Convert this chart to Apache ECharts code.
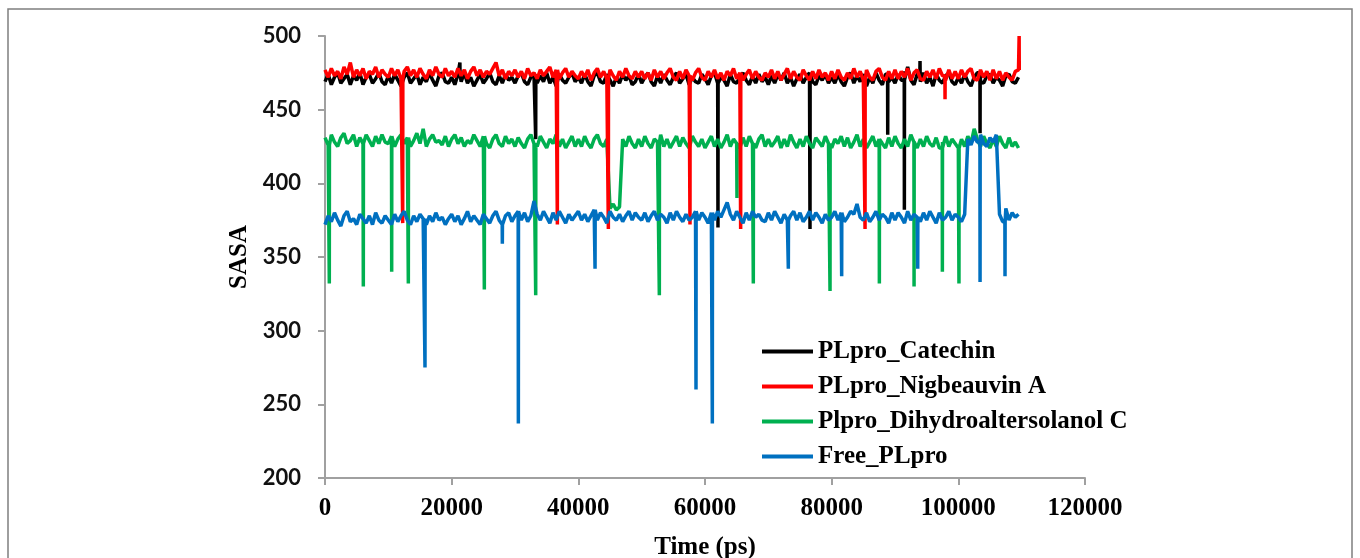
<!DOCTYPE html>
<html>
<head>
<meta charset="utf-8">
<script src="https://cdn.jsdelivr.net/npm/echarts@6/dist/echarts.min.js"></script>
<style>
  html, body { margin: 0; padding: 0; background: #fff; }
  #chart { width: 1360px; height: 558px; }
</style>
</head>
<body>
<div id="chart"></div>
<script>
// sampled every 500 ps, 0 .. 109500
var step = 500;

var catechin = [
  469,474,467,472,475,468,471,474,467,473,470,475,467,472,474,468,471,475,469,467,
  473,468,474,470,466,472,475,468,471,474,467,472,469,475,470,466,473,475,469,468,
  472,467,474,469,475,468,472,466,470,474,468,471,475,469,467,473,468,474,470,472,
  468,473,475,469,467,472,474,468,473,469,475,468,472,466,474,470,468,472,475,469,
  472,468,474,469,466,473,475,469,468,474,470,466,472,468,474,470,473,467,469,474,
  468,472,475,469,466,473,468,474,470,467,472,475,468,471,474,467,472,469,468,474,
  471,467,473,475,468,472,470,466,474,469,468,472,475,470,467,473,468,474,469,472,
  467,473,468,474,470,475,468,472,466,471,474,468,472,475,469,467,473,470,474,468,
  472,468,474,469,466,472,475,468,473,469,474,466,472,468,475,470,467,474,469,472,
  468,474,470,476,479,470,467,474,469,475,468,472,466,474,470,468,473,475,469,467,
  472,468,474,469,466,472,475,469,468,473,474,468,472,470,466,473,474,469,468,472
];
var nigbeauvin = [
  477,472,478,473,476,471,479,474,482,472,477,473,478,471,476,474,479,472,477,474,
  472,478,473,477,471,476,479,473,477,472,478,474,471,477,473,479,474,472,478,473,
  476,472,478,473,477,471,476,479,473,477,472,476,474,478,482,473,477,471,476,473,
  477,472,476,471,478,473,475,471,477,473,476,479,472,477,471,475,478,472,476,473,
  471,476,472,477,470,475,478,472,476,471,477,473,470,476,472,478,473,471,476,472,
  476,471,475,470,477,472,476,471,475,478,472,470,476,471,477,473,470,475,478,472,
  470,476,472,477,471,475,470,476,473,478,471,475,470,474,477,471,476,472,470,475,
  472,477,471,476,470,474,478,471,476,472,470,477,473,470,476,471,477,472,475,470,
  476,471,477,472,470,475,471,478,472,476,470,477,472,470,476,478,472,470,476,471,
  477,471,476,472,478,470,475,477,471,470,476,472,477,471,478,473,470,477,471,476,
  471,477,472,476,478,471,470,477,472,476,470,477,471,476,470,475,472,470,476,477
];
var dihydro = [
  431,426,433,428,425,431,434,427,429,433,425,431,427,433,429,425,432,427,433,428,
  427,432,425,430,433,427,431,425,429,434,427,437,425,430,433,428,429,426,432,425,
  430,433,427,431,425,429,427,433,429,425,432,427,424,430,433,427,425,432,427,430,
  425,431,427,424,430,433,427,425,432,428,424,430,427,433,425,430,424,428,432,425,
  430,425,432,427,424,430,433,427,425,430,383,386,382,384,430,425,432,427,424,430,
  425,432,427,424,430,428,433,425,430,424,428,432,425,431,427,424,432,428,425,430,
  424,428,432,425,430,424,428,433,425,430,427,424,431,425,432,427,424,430,433,425,
  430,425,428,432,424,430,425,433,428,424,430,425,432,427,424,431,428,425,432,427,
  424,430,427,432,425,431,424,428,433,425,430,424,428,432,425,430,427,424,431,425,
  432,427,424,430,425,433,428,424,430,425,432,427,425,431,424,428,432,425,430,427,
  424,430,425,432,427,437,430,425,432,427,424,430,425,432,427,424,431,425,428,424
];
var freePL = [
  372,378,374,380,375,371,378,381,374,376,372,379,376,373,378,372,380,375,373,378,
  375,372,379,374,378,381,375,372,378,374,379,376,372,378,374,380,375,377,372,376,
  379,374,378,372,376,381,374,378,375,372,379,376,373,378,381,375,372,378,380,374,
  378,381,375,380,374,378,388,379,375,381,377,373,380,375,381,377,373,379,375,378,
  381,375,379,374,378,382,375,380,377,373,381,377,375,379,374,378,381,375,380,377,
  375,380,374,378,381,375,379,377,373,380,375,381,377,374,379,375,377,381,375,380,
  377,373,380,375,381,377,382,387,379,375,381,377,373,380,375,381,377,379,375,374,
  380,375,381,377,373,379,375,378,381,375,380,374,377,381,375,380,377,373,379,375,
  377,381,375,380,374,377,381,379,386,377,375,380,374,377,381,375,379,377,373,380,
  375,380,377,373,381,375,379,377,374,380,375,381,377,373,380,375,377,381,375,379,
  377,374,379,430,426,432,428,433,427,425,431,428,433,379,374,383,375,380,377,379
];

// single-frame excursions [time ps, SASA]
var catechinSpikes = [[21300,482],[33270,430],[62050,370],[76580,369],[88850,433],[91480,382],[93950,483],[103430,434]];
var nigbeauvinSpikes = [[12270,373],[36690,372],[44740,369],[57630,372],[65630,369],[85270,369],[97900,457],[109600,500]];
var dihydroSpikes = [[680,332],[6050,330],[10530,340],[13160,332],[25160,328],[33270,324],[52790,324],[65050,390],
  [67630,332],[79740,327],[87530,332],[93010,330],[97480,340],[100100,332]];
var freeSpikes = [[15790,275],[28000,359],[30530,237],[42640,342],[58580,260],[61160,237],[73160,342],[81580,337],
  [93590,342],[103430,333],[107370,337]];

var names = ['PLpro_Catechin', 'PLpro_Nigbeauvin A', 'Plpro_Dihydroaltersolanol C', 'Free_PLpro'];
var xTicks = [0, 20000, 40000, 60000, 80000, 100000, 120000];
var yTicks = [200, 250, 300, 350, 400, 450, 500];

function build(vals, spikes) {
  var pts = vals.map(function (v, i) { return [i * step, v]; });
  spikes.forEach(function (s) {
    var i = Math.min(Math.floor(s[0] / step), vals.length - 1);
    pts.push([s[0] - 20, vals[i]], [s[0], s[1]], [s[0] + 20, vals[i]]);
  });
  pts.sort(function (a, b) { return a[0] - b[0]; });
  return pts;
}

function line(name, color, data) {
  return {
    name: name, type: 'line', data: data,
    showSymbol: false, symbol: 'none', sampling: null,
    lineStyle: { color: color, width: 3.5 },
    itemStyle: { color: color }
  };
}

var serif = { fontFamily: 'Liberation Serif', fontWeight: 'bold', fontSize: 25, color: '#000' };

var chart = echarts.init(document.getElementById('chart'));
chart.setOption({
  animation: false,
  grid: { left: 325, right: 275, top: 36, bottom: 80, containLabel: false, outerBoundsMode: 'none' },
  graphic: [{
    type: 'rect', silent: true,
    shape: { x: 8, y: 9, width: 1344, height: 600 },
    style: { fill: 'none', stroke: '#7f7f7f', lineWidth: 1.5 }
  }],
  legend: {
    data: names,
    orient: 'vertical',
    left: 757, top: 334,
    itemWidth: 51, itemHeight: 4, itemGap: 10,
    icon: 'rect',
    textStyle: serif
  },
  xAxis: {
    type: 'value', min: xTicks[0], max: xTicks[xTicks.length - 1], interval: 20000,
    name: 'Time (ps)', nameLocation: 'middle', nameGap: 57,
    nameTextStyle: serif,
    axisLine: { lineStyle: { color: '#a0a0a0', width: 2 } },
    axisTick: { show: true, length: 7, lineStyle: { color: '#a0a0a0', width: 2 } },
    axisLabel: {
      margin: 18, fontFamily: 'Liberation Serif', fontWeight: 'bold', fontSize: 25, color: '#000',
      formatter: function (v) { return String(v); }
    },
    splitLine: { show: false }
  },
  yAxis: {
    type: 'value', min: yTicks[0], max: yTicks[yTicks.length - 1], interval: 50,
    name: 'SASA', nameLocation: 'middle', nameGap: 70, nameRotate: 90,
    nameTextStyle: serif,
    axisLine: { show: true, lineStyle: { color: '#a0a0a0', width: 2 } },
    axisTick: { show: true, length: 7, lineStyle: { color: '#a0a0a0', width: 2 } },
    axisLabel: { margin: 24, fontFamily: 'Lato', fontWeight: 'bold', fontSize: 22, color: '#111' },
    splitLine: { show: false }
  },
  series: [
    line(names[0], '#000000', build(catechin, catechinSpikes)),
    line(names[2], '#00b050', build(dihydro, dihydroSpikes)),
    line(names[1], '#ff0000', build(nigbeauvin, nigbeauvinSpikes)),
    line(names[3], '#0070c0', build(freePL, freeSpikes))
  ]
});
</script>
</body>
</html>
